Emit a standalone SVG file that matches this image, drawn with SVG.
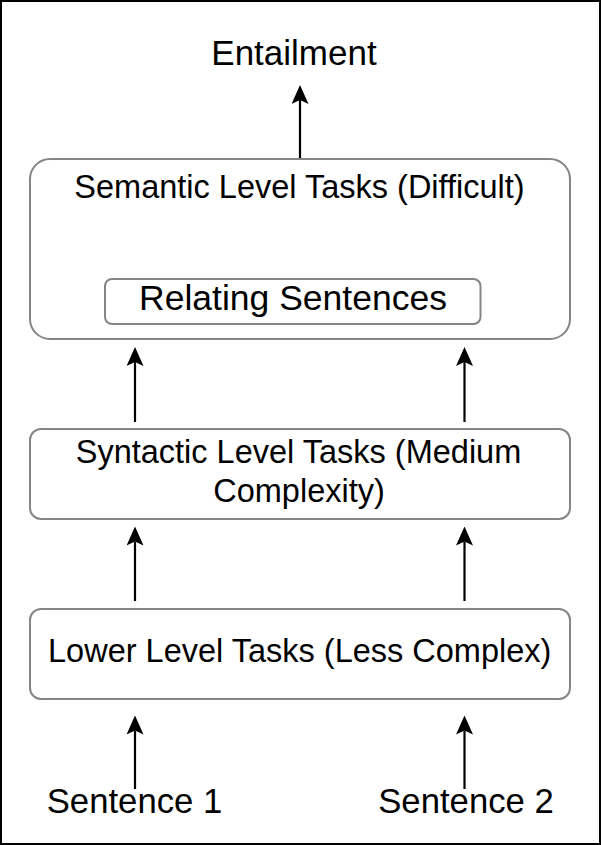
<svg xmlns="http://www.w3.org/2000/svg" width="601" height="845" viewBox="0 0 601 845">
  <style>
    .box { fill: #ffffff; stroke: #858585; stroke-width: 2; }
    .t { font-family: "Liberation Sans", Arial, sans-serif; fill: #000000; text-anchor: middle; }
    .edge { stroke: #000000; stroke-width: 2.2; fill: none; marker-end: url(#arr); }
  </style>
  <defs>
    <marker id="arr" markerUnits="userSpaceOnUse" markerWidth="19" markerHeight="17" viewBox="0 0 19 17" refX="4" refY="8.5" orient="auto">
      <path d="M0,0 L19,8.5 L0,17 L4,8.5 Z" fill="#000000"/>
    </marker>
  </defs>
  <rect x="1" y="1" width="599" height="843" fill="#ffffff" stroke="#000000" stroke-width="2"/>

  <g id="entailment">
    <text class="t" x="294" y="64.5" font-size="35">Entailment</text>
  </g>

  <g id="semantic">
    <rect class="box" x="30" y="159" width="540" height="180" rx="20" ry="20"/>
    <text class="t" x="299.5" y="197.5" font-size="32.5">Semantic Level Tasks (Difficult)</text>
  </g>

  <g id="relating">
    <rect class="box" x="105" y="279" width="375.5" height="45" rx="7" ry="7"/>
    <text class="t" x="293" y="309.5" font-size="35.5">Relating Sentences</text>
  </g>

  <g id="syntactic">
    <rect class="box" x="30" y="429" width="540" height="90" rx="11" ry="11"/>
    <text class="t" x="298.5" y="462.5" font-size="32.5">Syntactic Level Tasks (Medium</text>
    <text class="t" x="299" y="501.5" font-size="32.5">Complexity)</text>
  </g>

  <g id="lower">
    <rect class="box" x="30" y="609" width="540" height="90" rx="11" ry="11"/>
    <text class="t" x="299.7" y="661.5" font-size="32.5">Lower Level Tasks (Less Complex)</text>
  </g>

  <g id="sentence1">
    <text class="t" x="134.5" y="813" font-size="34.7">Sentence 1</text>
  </g>

  <g id="sentence2">
    <text class="t" x="466" y="813" font-size="34.7">Sentence 2</text>
  </g>

  <g id="connectors">
    <line class="edge" x1="300" y1="158" x2="300" y2="100"/>
    <line class="edge" x1="135" y1="422" x2="135" y2="362"/>
    <line class="edge" x1="464.5" y1="422" x2="464.5" y2="362"/>
    <line class="edge" x1="135" y1="601" x2="135" y2="541.5"/>
    <line class="edge" x1="464.5" y1="601" x2="464.5" y2="541.5"/>
    <line class="edge" x1="135" y1="789" x2="135" y2="730.5"/>
    <line class="edge" x1="464.5" y1="789" x2="464.5" y2="730.5"/>
  </g>
</svg>
